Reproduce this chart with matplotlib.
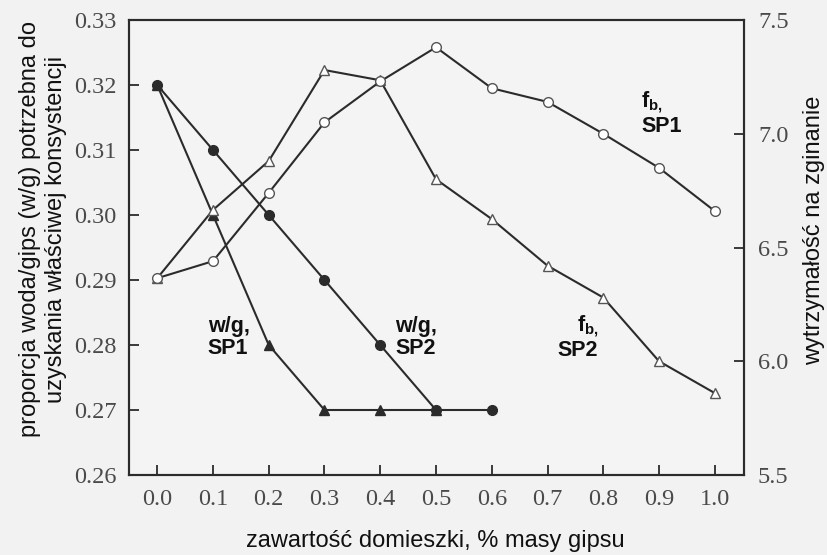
import matplotlib
matplotlib.use("Agg")
import matplotlib.pyplot as plt

# ---- data ----
x_wg_sp2 = [0.0, 0.1, 0.2, 0.3, 0.4, 0.5, 0.6]
wg_sp2 = [0.32, 0.31, 0.30, 0.29, 0.28, 0.27, 0.27]

x_wg_sp1 = [0.0, 0.1, 0.2, 0.3, 0.4, 0.5]
wg_sp1 = [0.32, 0.30, 0.28, 0.27, 0.27, 0.27]

x_fb = [0.0, 0.1, 0.2, 0.3, 0.4, 0.5, 0.6, 0.7, 0.8, 0.9, 1.0]
fb_sp1 = [6.365, 6.44, 6.74, 7.05, 7.23, 7.38, 7.20, 7.14, 7.00, 6.85, 6.66]
fb_sp2 = [6.365, 6.665, 6.88, 7.28, 7.235, 6.80, 6.625, 6.42, 6.28, 6.00, 5.86]

xticks = [0.0, 0.1, 0.2, 0.3, 0.4, 0.5, 0.6, 0.7, 0.8, 0.9, 1.0]
yticks_left = [0.26, 0.27, 0.28, 0.29, 0.30, 0.31, 0.32, 0.33]
yticks_right = [5.5, 6.0, 6.5, 7.0, 7.5]

xlabel = "zawartość domieszki, % masy gipsu"
ylabel_left = "proporcja woda/gips (w/g) potrzebna do\nuzyskania właściwej konsystencji"
ylabel_right = "wytrzymałość na zginanie"

plt.rcParams['mathtext.fontset'] = 'custom'
plt.rcParams['mathtext.bf'] = 'Liberation Sans:bold'
plt.rcParams['mathtext.rm'] = 'Liberation Sans'

BG = '#f2f2f2'
LC = '#2b2b2b'
TC = '#4a4a4a'

fig = plt.figure(figsize=(8.27, 5.55), dpi=100, facecolor=BG)
ax = fig.add_axes([129/827, 1-475/555, (744-129)/827, (475-20)/555])
ax.set_facecolor('#f4f4f4')
ax2 = ax.twinx()

ax.set_xlim(-0.0506, 1.0524)
ax.set_ylim(0.26, 0.33)
ax2.set_ylim(5.5, 7.5)

ms = 7
lw = 1.5
ax.plot(x_wg_sp1, wg_sp1, color=LC, lw=lw, marker='^', ms=ms, mfc=LC, mec=LC, zorder=3)
ax.plot(x_wg_sp2, wg_sp2, color=LC, lw=lw, marker='o', ms=ms, mfc=LC, mec=LC, zorder=4)
ax2.plot(x_fb, fb_sp2, color=LC, lw=lw, marker='^', ms=ms+0.5, mfc='white', mec='#555555', mew=1.0, zorder=3)
ax2.plot(x_fb, fb_sp1, color=LC, lw=lw, marker='o', ms=ms, mfc='white', mec='#555555', mew=1.0, zorder=4)

for a in (ax, ax2):
    for s in a.spines.values():
        s.set_color(LC)
        s.set_linewidth(1.5)

tick_font = dict(family='Liberation Serif', size=17.5)
ax.set_xticks(xticks)
ax.set_xticklabels([f"{v:.1f}" for v in xticks], fontdict=tick_font, color=TC)
ax.set_yticks(yticks_left)
ax.set_yticklabels([f"{v:.2f}" for v in yticks_left], fontdict=tick_font, color=TC)
ax2.set_yticks(yticks_right)
ax2.set_yticklabels([f"{v:.1f}" for v in yticks_right], fontdict=tick_font, color=TC)

ax.tick_params(axis='both', direction='in', length=7, width=1.3, color=LC, pad=9)
ax.tick_params(axis='x', pad=10)
ax2.tick_params(axis='y', direction='in', length=7, width=1.3, color=LC, pad=10)

lab_font = dict(family='Liberation Sans', size=17, color='#111111')
fig.text(435/827, 1-541/555, xlabel, ha='center', va='center', **lab_font)
fig.text(43/827, 1-229/555, ylabel_left, ha='center', va='center', rotation=90,
         multialignment='center', linespacing=1.25, **lab_font)
fig.text(814/827, 1-230/555, ylabel_right, ha='center', va='center', rotation=90, **lab_font)

ann = dict(family='Liberation Sans', size=15.5, fontweight='bold', color='#111111', linespacing=1.05)
ax.text(0.128, 0.2812, "w/g,\nSP1", ha='center', va='center', multialignment='left', **ann)
ax.text(0.465, 0.2812, "w/g,\nSP2", ha='center', va='center', multialignment='left', **ann)
ax.text(0.791, 0.2812, r"$\mathbf{f}_{\mathbf{b,}}$" + "\nSP2", ha='right', va='center', multialignment='right', **ann)
ax.text(0.868, 0.3157, r"$\mathbf{f}_{\mathbf{b,}}$" + "\nSP1", ha='left', va='center', multialignment='left', **ann)

fig.savefig('out.png', dpi=100, facecolor=BG)
